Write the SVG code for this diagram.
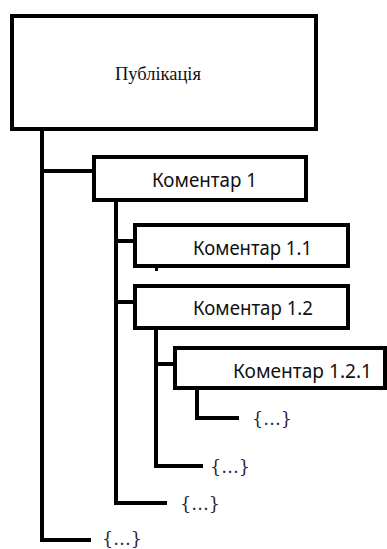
<svg xmlns="http://www.w3.org/2000/svg" width="387" height="549" viewBox="0 0 387 549">
<style>
.box{fill:#fff;stroke:#000;stroke-width:4}
.ln{fill:none;stroke:#000;stroke-width:4;stroke-linecap:square}
.lbl{font-family:"Noto Sans","Open Sans","DejaVu Sans",sans-serif;font-size:20px;fill:#111}
.pub{font-family:"Liberation Serif","DejaVu Serif",serif;font-size:19px;fill:#111}
.br{font-family:"DejaVu Serif","Liberation Serif",serif;font-size:18px;fill:#2a2438}
</style>
<rect width="387" height="549" fill="#fff"/>
<g id="connectors">
<path class="ln" d="M42,131 V540 H89"/>
<path class="ln" d="M42,171 H92"/>
<path class="ln" d="M116,202 V503 H165"/>
<path class="ln" d="M116,241 H133"/>
<path class="ln" d="M116,302 H133"/>
<path class="ln" d="M156,330 V466 H201"/>
<path class="ln" d="M156,364 H173"/>
<path class="ln" d="M197,390 V418 H237"/>
<rect x="155" y="268" width="3" height="3" fill="#000"/>
</g>
<g id="publication">
<rect class="box" x="12" y="16" width="304" height="113"/>
<text class="pub" x="158" y="80" text-anchor="middle" textLength="86" lengthAdjust="spacingAndGlyphs">Публікація</text>
</g>
<g id="comment1">
<rect class="box" x="94" y="157" width="212" height="43"/>
<text class="lbl" x="152" y="187" textLength="105" lengthAdjust="spacingAndGlyphs">Коментар 1</text>
</g>
<g id="comment1-1">
<rect class="box" x="135" y="225" width="213" height="41"/>
<text class="lbl" x="193" y="255" textLength="119" lengthAdjust="spacingAndGlyphs">Коментар 1.1</text>
</g>
<g id="comment1-2">
<rect class="box" x="135" y="286" width="213" height="42"/>
<text class="lbl" x="193" y="315" textLength="120" lengthAdjust="spacingAndGlyphs">Коментар 1.2</text>
</g>
<g id="comment1-2-1">
<rect class="box" x="175" y="348" width="210" height="40"/>
<text class="lbl" x="233" y="378" textLength="139" lengthAdjust="spacingAndGlyphs">Коментар 1.2.1</text>
</g>
<g id="more-1-2-1">
<text class="br" x="252" y="425" textLength="40" lengthAdjust="spacingAndGlyphs">{…}</text>
</g>
<g id="more-1-2">
<text class="br" x="210" y="473" textLength="40" lengthAdjust="spacingAndGlyphs">{…}</text>
</g>
<g id="more-1">
<text class="br" x="180" y="510" textLength="40" lengthAdjust="spacingAndGlyphs">{…}</text>
</g>
<g id="more-pub">
<text class="br" x="102" y="545" textLength="40" lengthAdjust="spacingAndGlyphs">{…}</text>
</g>
</svg>
